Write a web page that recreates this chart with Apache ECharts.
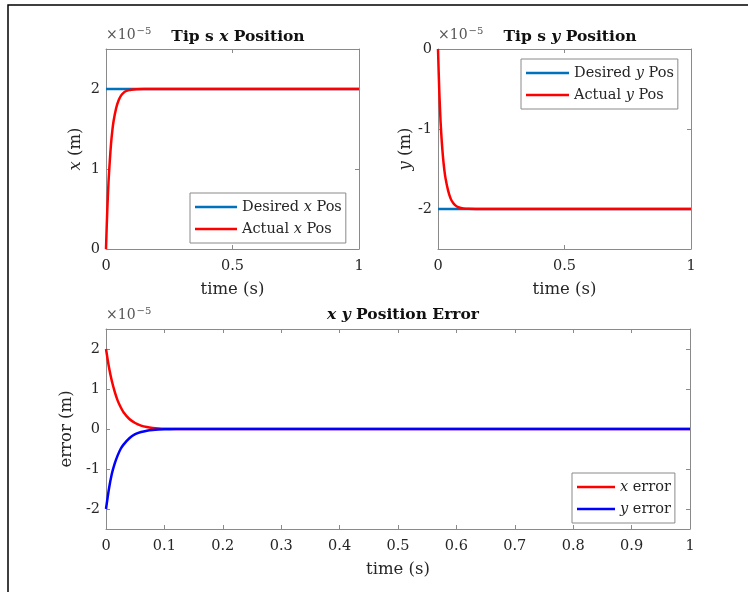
<!DOCTYPE html>
<html>
<head>
<meta charset="utf-8">
<script src="https://cdn.jsdelivr.net/npm/echarts@6/dist/echarts.min.js"></script>
<style>html,body{margin:0;padding:0;background:#fff}#c{width:748px;height:592px}</style>
</head>
<body>
<div id="c"></div>
<script>
// time samples (s)
var timeS = [0, 0.005, 0.01, 0.015, 0.02, 0.025, 0.03, 0.04, 0.05, 0.06, 0.07, 0.08, 0.09, 0.1, 0.12, 0.15, 0.2, 0.3, 0.5, 0.75, 1];
// values in units of 1e-5 m
var actualX = [0, 0.48, 0.84, 1.10, 1.32, 1.48, 1.60, 1.76, 1.86, 1.92, 1.955, 1.975, 1.986, 1.992, 1.997, 1.999, 2, 2, 2, 2, 2];
var actualY = [0, -0.52, -0.90, -1.16, -1.36, -1.51, -1.62, -1.77, -1.87, -1.925, -1.958, -1.977, -1.987, -1.993, -1.997, -1.999, -2, -2, -2, -2, -2];
var errorX = [2, 1.55, 1.2, 0.93, 0.71, 0.55, 0.42, 0.25, 0.15, 0.085, 0.048, 0.027, 0.015, 0.008, 0.003, 0.001, 0, 0, 0, 0, 0];
var errorY = [-2, -1.50, -1.12, -0.86, -0.66, -0.50, -0.39, -0.23, -0.13, -0.075, -0.042, -0.023, -0.013, -0.007, -0.003, -0.001, 0, 0, 0, 0, 0];
var desiredTime = [0, 1];
var desiredX = [2, 2];
var desiredY = [-2, -2];

function pairs(t, v) { return t.map(function (x, i) { return [x, v[i]]; }); }

var FONT = 'DejaVu Serif';
var TXT = '#262626';
var AX = '#8a8a8a';
var rich = {
  n: { fontFamily: FONT, fontSize: 14.5, color: TXT },
  i: { fontFamily: FONT, fontSize: 14.5, color: TXT, fontStyle: 'italic' },
  b: { fontFamily: FONT, fontSize: 15.5, color: '#111', fontWeight: 'bold' },
  bi: { fontFamily: FONT, fontSize: 15.5, color: '#111', fontStyle: 'italic' },
  an: { fontFamily: FONT, fontSize: 16.5, color: TXT },
  ai: { fontFamily: FONT, fontSize: 16.5, color: TXT, fontStyle: 'italic' }
};
function intLabel(v) { return Math.abs(v - Math.round(v)) < 1e-9 ? String(Math.round(v)) : ''; }

function axisLineStyle() { return { show: true, onZero: false, lineStyle: { color: AX, width: 1 } }; }
function tickStyle() { return { show: true, inside: true, length: 4, lineStyle: { color: AX } }; }

function xAxes(grid, interval, fmt, name) {
  return [{
    type: 'value', gridIndex: grid, min: 0, max: 1, interval: interval, position: 'bottom',
    axisLine: axisLineStyle(), axisTick: tickStyle(),
    axisLabel: { show: true, color: TXT, fontFamily: FONT, fontSize: 14.5, margin: 10, formatter: fmt },
    splitLine: { show: false },
    name: name, nameLocation: 'middle', nameGap: 32,
    nameTextStyle: { fontFamily: FONT, fontSize: 16.5, color: TXT }
  }, {
    type: 'value', gridIndex: grid, min: 0, max: 1, interval: interval, position: 'top',
    axisLine: axisLineStyle(), axisTick: tickStyle(),
    axisLabel: { show: false }, splitLine: { show: false }
  }];
}
function yAxes(grid, min, max, split, nameRich, gap) {
  return [{
    type: 'value', gridIndex: grid, min: min, max: max, splitNumber: split, position: 'left',
    axisLine: axisLineStyle(), axisTick: tickStyle(),
    axisLabel: { show: true, color: TXT, fontFamily: FONT, fontSize: 14.5, margin: 6, formatter: intLabel },
    splitLine: { show: false },
    name: nameRich, nameLocation: 'middle', nameGap: gap, nameRotate: 90,
    nameTextStyle: { fontFamily: FONT, fontSize: 16.5, color: TXT, rich: rich }
  }, {
    type: 'value', gridIndex: grid, min: min, max: max, splitNumber: split, position: 'right',
    axisLine: axisLineStyle(), axisTick: tickStyle(),
    axisLabel: { show: false }, splitLine: { show: false }
  }];
}
function fmtHalf(v) { return v === 0 ? '0' : (v === 1 ? '1' : String(v)); }
function fmtTenth(v) { var r = Math.round(v * 10) / 10; return r === 0 ? '0' : (r === 1 ? '1' : r.toFixed(1)); }

var xa = [].concat(xAxes(0, 0.5, fmtHalf, 'time (s)'), xAxes(1, 0.5, fmtHalf, 'time (s)'), xAxes(2, 0.1, fmtTenth, 'time (s)'));
var ya = [].concat(yAxes(0, 0, 2.5, 2, '{ai|x}{an| (m)}', 22), yAxes(1, -2.5, 0, 2, '{ai|y}{an| (m)}', 23), yAxes(2, -2.5, 2.5, 5, '{an|error (m)}', 24));

function line(name, xi, yi, data, color) {
  return { name: name, type: 'line', xAxisIndex: xi, yAxisIndex: yi, data: data, showSymbol: false, symbol: 'none',
    smooth: 0.25, lineStyle: { color: color, width: 2.5 }, itemStyle: { color: color }, animation: false };
}
function legendFmt(name) {
  var parts = name.split(/(\bx\b|\by\b)/);
  return parts.map(function (p) { if (p === '') return ''; return (p === 'x' || p === 'y') ? '{i|' + p + '}' : '{n|' + p.replace(/ /g, '\u00a0') + '}'; }).join('');
}
function legend(left, top, names, w) {
  return { left: left, top: top, orient: 'vertical', data: names, formatter: legendFmt,
    backgroundColor: '#fff', borderColor: AX, borderWidth: 1, padding: [5, 4, 5, 5], itemGap: 4,
    icon: 'rect', itemWidth: w, itemHeight: 2.5, selectedMode: false,
    textStyle: { fontFamily: FONT, fontSize: 14.5, color: TXT, rich: rich, lineHeight: 18 } };
}
function sup(x, y) {
  return { type: 'text', left: x, top: y, silent: true,
    style: { text: '{a|\u00d710}{s|\u22125}', rich: {
      a: { fontFamily: FONT, fontSize: 14, fill: '#555' },
      s: { fontFamily: FONT, fontSize: 10, fill: '#555', verticalAlign: 'top', padding: [0, 0, 8, 1] } } } };
}

var option = {
  backgroundColor: '#fff',
  animation: false,
  grid: [
    { left: 106, top: 49, width: 253, height: 200 },
    { left: 438, top: 49, width: 253, height: 200 },
    { left: 106, top: 329, width: 584, height: 200 }
  ],
  title: [
    { text: '{b|Tip s }{bi|x}{b| Position}', left: 233, top: 24, textAlign: 'center', textStyle: { rich: rich } },
    { text: '{b|Tip s }{bi|y}{b| Position}', left: 565, top: 24, textAlign: 'center', textStyle: { rich: rich } },
    { text: '{bi|x y}{b| Position Error}', left: 398, top: 302, textAlign: 'center', textStyle: { rich: rich } }
  ],
  legend: [
    legend(190, 193, ['Desired x Pos', 'Actual x Pos'], 42),
    legend(521, 59, ['Desired y Pos', 'Actual y Pos'], 43),
    legend(572, 473, ['x error', 'y error'], 38)
  ],
  xAxis: xa,
  yAxis: ya,
  series: [
    line('Desired x Pos', 0, 0, pairs(desiredTime, desiredX), '#0072BD'),
    line('Actual x Pos', 0, 0, pairs(timeS, actualX), '#FF0000'),
    line('Desired y Pos', 2, 2, pairs(desiredTime, desiredY), '#0072BD'),
    line('Actual y Pos', 2, 2, pairs(timeS, actualY), '#FF0000'),
    line('x error', 4, 4, pairs(timeS, errorX), '#FF0000'),
    line('y error', 4, 4, pairs(timeS, errorY), '#0000FF')
  ],
  graphic: [
    { type: 'rect', silent: true, shape: { x: 8, y: 5, width: 800, height: 700 }, style: { fill: 'none', stroke: '#000', lineWidth: 1.5 } },
    sup(106, 26), sup(438, 26), sup(106, 306)
  ]
};
var chart = echarts.init(document.getElementById('c'), null, { renderer: 'canvas' });
chart.setOption(option);
</script>
</body>
</html>
